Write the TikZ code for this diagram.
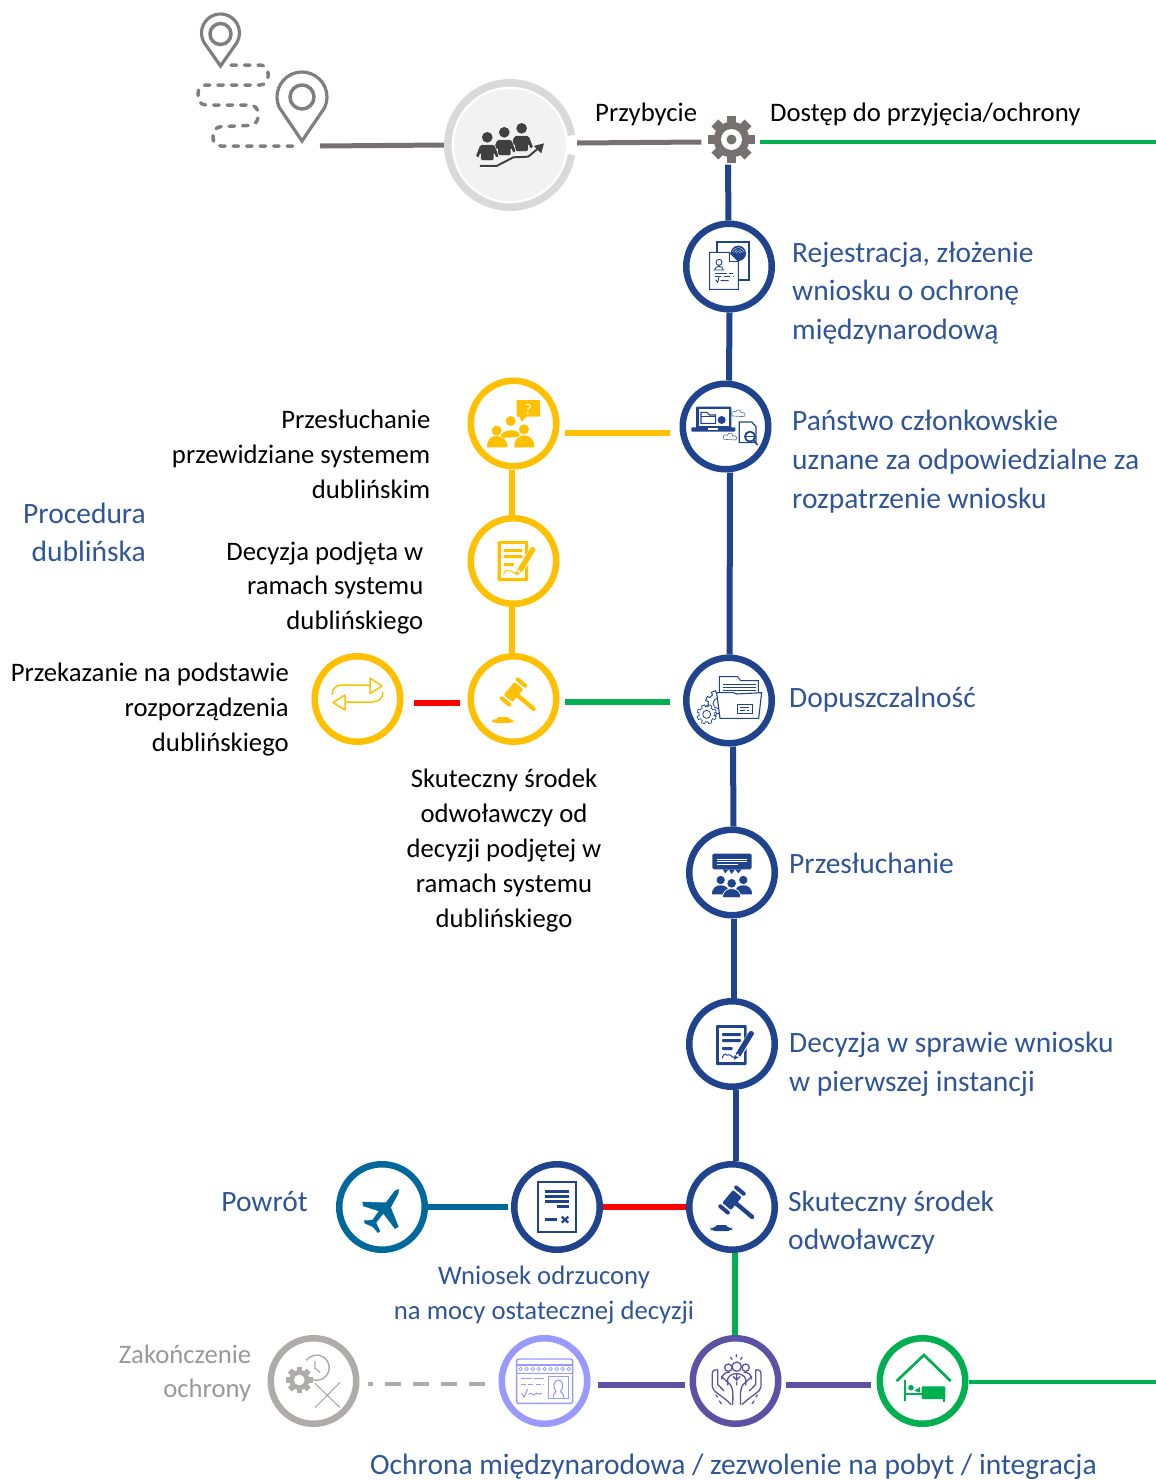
\documentclass[tikz,border=0pt]{standalone}
\usepackage{fontspec}
\setmainfont{Carlito}
\definecolor{navy}{HTML}{1F438C}
\definecolor{labelblue}{HTML}{2F5597}
\definecolor{gold}{HTML}{FFC000}
\definecolor{leaf}{HTML}{00B050}
\definecolor{slate}{HTML}{767171}
\definecolor{teal}{HTML}{00689B}
\definecolor{violet2}{HTML}{5B52A3}
\definecolor{lilac}{HTML}{9999FF}
\definecolor{ash}{HTML}{AFABAB}
\definecolor{pale}{HTML}{D9D9D9}
\definecolor{dark}{HTML}{404040}
\definecolor{pingrey}{HTML}{7F7F7F}
\newcommand{\gearsolid}[5]{%
  \foreach \a in {0,45,90,135}{\fill[#5,shift={(#1,#2)},rotate=\a] (-#3*0.21,-#3) rectangle (#3*0.21,#3);}
  \fill[#5] (#1,#2) circle (#3*0.76);
  \fill[white] (#1,#2) circle (#4);}
\newcommand{\gearline}[4]{%
  \foreach \a in {0,45,90,135}{\fill[#4,shift={(#1,#2)},rotate=\a+22.5] (-#3*0.2,-#3) rectangle (#3*0.2,#3);}
  \fill[#4] (#1,#2) circle (#3*0.8);
  \foreach \a in {0,45,90,135}{\fill[white,shift={(#1,#2)},rotate=\a+22.5] (-#3*0.12,-#3*0.92) rectangle (#3*0.12,#3*0.92);}
  \fill[white] (#1,#2) circle (#3*0.72);
  \draw[#4,line width=.8pt] (#1,#2) circle (#3*0.4);}
\newcommand{\headbody}[3]{%
  \fill[#3,draw=white,line width=.5pt,rounded corners=1.5pt,shift={(#1,#2)}] (-22,22)--(22,22)--(36,58)--(26,63)--(20,46)--(20,70)--(-20,70)--(-20,46)--(-26,63)--(-36,58)--cycle;
  \fill[#3] (#1,#2) circle (16);}
\tikzset{
  x=1pt,y=-1pt,
  zm/.style 2 args={shift={(#1,#2)},scale=0.3333},
  ringnode/.style={circle,draw=#1,line width=6.5pt,minimum size=85.5pt,inner sep=0pt,fill=white},
  link/.style={draw=#1,line width=6pt},
  thinlink/.style={draw=#1,line width=3.5pt},
  bluetext/.style={font=\fontsize{29.5}{38.5}\selectfont,text=labelblue,inner sep=0pt,anchor=north west,align=left},
  blacktext/.style={font=\fontsize{26.7}{35}\selectfont,text=black,inner sep=0pt,anchor=north east,align=right},
  pics/decdoc/.style={code={
    \fill[#1,rounded corners=1pt] (-48,-60) rectangle (44,60);
    \fill[white] (-39,-51) rectangle (35,51);
    \fill[#1,rounded corners=.8pt] (-30,-36) rectangle (27,-27);
    \fill[#1,rounded corners=.8pt] (-30,-18) rectangle (27,-9);
    \fill[#1,rounded corners=.8pt] (-30,6) rectangle (2,15);
    \draw[#1,line width=1pt] (-30,40) .. controls (-20,15) and (-18,35) .. (-12,30) .. controls (-5,25) and (0,42) .. (14,36);
    \fill[white] (24,40) -- (6,46) -- (10,24) -- (50,-40) -- (70,-30) -- cycle;
    \fill[#1,rounded corners=1pt] (10,28) -- (50,-38) .. controls (58,-46) and (68,-38) .. (64,-30) -- (24,36) -- cycle;
    \fill[#1] (6,44) -- (8,30) -- (20,37) -- cycle;
    \fill[white] (12,33) -- (16,26) -- (21,29) -- (17,36) -- cycle;
  }},
  pics/gavel/.style={code={
    \begin{scope}[rotate=-40]
      \fill[#1,rounded corners=1.5pt] (10,-6.5) rectangle (85,6.5);
      \fill[#1,rounded corners=1pt] (-17,-25) rectangle (17,25);
      \fill[#1,rounded corners=1.5pt] (-21,-43) rectangle (21,-31);
      \fill[#1,rounded corners=1.5pt] (-21,31) rectangle (21,43);
    \end{scope}
  }},
  pics/gavelbase/.style={code={
    \fill[#1,rounded corners=4pt] (-64,60) rectangle (0,72);
    \fill[#1,rounded corners=2pt] (-50,54) rectangle (-14,62);
  }},
}
\begin{document}
\begin{tikzpicture}
\useasboundingbox (0,0) rectangle (1156,1481);
% ---- route with pins
\draw[draw=pingrey,line width=3.2pt] (220.5,66) -- ([shift={(150:19)}]220.5,33) arc (150:390:19) -- cycle;
\draw[draw=pingrey,line width=3.5pt] (220.5,34) circle (10.5);
\draw[draw=pingrey,line width=3.2pt] (302,141) -- ([shift={(155:25)}]302,97) arc (155:385:25) -- cycle;
\draw[draw=pingrey,line width=3.5pt] (302,97) circle (12);
\draw[draw=pingrey,line width=3.5pt,line cap=round,dash pattern=on 5.5pt off 8pt,rounded corners=8pt]
  (231,65) -- (268,65) -- (268,85) -- (198,85) -- (198,105) -- (258,105) -- (258,125) -- (213,127) -- (213,146) -- (297,146);

% ---- circular nodes
\node[circle,minimum size=132pt,inner sep=0pt] (startn) at (510,145) {};
\fill[black!5] (510,145) circle (56);
\draw[pale,line width=7.5pt] ([shift={(9:62.2)}]510,145) arc (9:351:62.2);
\node[circle,minimum size=46pt,inner sep=0pt] (gear) at (731.5,139.5) {};
\node[ringnode=navy] (reg) at (729,266.5) {};
\node[ringnode=navy] (ms) at (725.5,426.5) {};
\node[ringnode=navy] (adm) at (729,700.5) {};
\node[ringnode=navy] (int) at (732,872.5) {};
\node[ringnode=navy] (dec) at (732,1044) {};
\node[ringnode=navy] (app) at (732,1207) {};
\node[ringnode=navy] (rej) at (557,1207) {};
\node[ringnode=teal] (ret) at (382,1207) {};
\node[ringnode=gold] (qa) at (513.5,423.5) {};
\node[ringnode=gold] (qb) at (513.5,561) {};
\node[ringnode=gold] (qc) at (513.5,699) {};
\node[ringnode=gold] (tr) at (357.5,699) {};
\node[ringnode=ash] (end) at (313.5,1381) {};
\node[ringnode=lilac] (card) at (544.5,1381) {};
\node[ringnode=violet2] (prot) at (735.5,1381) {};
\node[ringnode=leaf] (home) at (922.5,1381) {};

% ---- free ends
\coordinate (routeend) at (320,146);
\coordinate (accessend) at (1156,142);
\coordinate (homeend) at (1156,1382);

% ---- connectors
\draw[slate,line width=5pt] (routeend) -- ([yshift=0pt]startn.west);
\draw[slate,line width=5pt] ([shift={(1,-2)}]startn.east) -- ([shift={(-7,2.5)}]gear.west);
\draw[thinlink=leaf] ([shift={(5.5,2.5)}]gear.east) -- (accessend);
\draw[link=navy] ([shift={(-3.5,2)}]gear.south) -- ([xshift=-.5pt]reg.north);
\draw[link=navy] ([xshift=.5pt]reg.south) -- ([xshift=3.5pt]ms.north);
\draw[link=navy] ([xshift=4.5pt]ms.south) -- ([xshift=.5pt]adm.north);
\draw[link=navy] ([xshift=4pt]adm.south) -- ([xshift=1.5pt]int.north);
\draw[link=navy] ([xshift=2pt]int.south) -- ([xshift=2pt]dec.north);
\draw[link=navy] ([xshift=4pt]dec.south) -- ([xshift=4pt]app.north);
\draw[link=leaf] ([xshift=3pt]app.south) -- ([xshift=-.5pt]prot.north);
\draw[link=gold] ([shift={(5.5,9.5)}]qa.east) -- ([shift={(-9.5,6.5)}]ms.west);
\draw[link=gold] ([xshift=-2pt]qa.south) -- ([xshift=-2pt]qb.north);
\draw[link=gold] ([xshift=-2pt]qb.south) -- ([xshift=-2pt]qc.north);
\draw[link=red] ([shift={(-7.5,4)}]qc.west) -- ([shift={(10.5,4)}]tr.east);
\draw[link=leaf] ([shift={(5.5,3)}]qc.east) -- ([shift={(-13,1.5)}]adm.west);
\draw[link=teal] (ret.east) -- ([xshift=-3pt]rej.west);
\draw[link=red] (rej.east) -- (app.west);
\draw[ash,line width=3.5pt,dash pattern=on 16pt off 12pt] ([shift={(-13.5,3)}]card.west) -- ([shift={(8.5,3)}]end.east);
\draw[link=violet2] ([shift={(7,4)}]card.east) -- ([shift={(-5,4)}]prot.west);
\draw[link=violet2] ([shift={(4,4)}]prot.east) -- ([shift={(-5.5,4)}]home.west);
\draw[thinlink=leaf] (home.east |- homeend) -- (homeend);

% ---- people in start node (zoom 1)
\begin{scope}[zm={180}{0}]
  \headbody{1025}{385}{dark}
  \headbody{973}{397}{dark}
  \headbody{922}{412}{dark}
  \draw[white,line width=3pt,line join=round] (900,498) -- (950,498) -- (1000,472) -- (1045,470) -- (1075,445);
  \draw[dark,line width=2pt,line join=round] (900,498) -- (950,498) -- (1000,472) -- (1045,470) -- (1075,445);
  \fill[dark] (1092,430) -- (1062,438) -- (1084,460) -- cycle;
\end{scope}

% ---- gear
\gearsolid{731.5}{139.5}{23.5}{10.5}{slate}
\fill[slate] (731.5,139.5) circle (5);

% ---- registration icon (zoom 2)
\begin{scope}[zm={670}{100}]
  \draw[navy,line width=1.8pt] (140,427) rectangle (236,540);
  \fill[navy] (205,460) circle (23);
  \foreach \r in {7,13,19}{\draw[white,line width=.3pt] ([shift={(200:\r)}]205,462) arc (200:340:\r);}
  \fill[white,draw=navy,line width=.9pt] (119,457) -- (178,457) -- (205,484) -- (205,568) -- (119,568) -- cycle;
  \draw[navy,line width=.9pt] (178,457) -- (178,484) -- (205,484);
  \draw[navy,line width=.9pt] (147,487) circle (9) (134,510) .. controls (136,495) and (158,495) .. (160,510) -- cycle;
  \draw[navy,line width=.9pt] (134,519) -- (170,519) (177,519) -- (190,519);
  \draw[navy,line width=.7pt,dash pattern=on 6pt off 3pt] (134,528) -- (190,528);
  \draw[navy,line width=.9pt] (137,540) -- (143,547) -- (147,532) (152,542) -- (176,542);
\end{scope}

% ---- member state icon (zoom 2)
\begin{scope}[zm={670}{100}]
  \fill[navy,rounded corners=1pt] (78,920) rectangle (184,985);
  \fill[white] (86,928) rectangle (176,978);
  \fill[navy,rounded corners=1pt] (64,982) rectangle (196,995);
  \fill[white] (115,985) rectangle (143,989);
  \draw[navy,line width=1.1pt] (93,937) -- (112,937) -- (118,945) -- (137,945) -- (137,970) -- (93,970) -- cycle;
  \draw[navy,line width=1.1pt] (93,950) -- (137,950);
  \fill[navy] (155,960) circle (12);
  \foreach \cx/\cy in {205/942,180/1012}{
    \draw[navy!80,line width=.6pt] (\cx-18,\cy+6) .. controls (\cx-26,\cy-6) and (\cx-12,\cy-10) .. (\cx-8,\cy-6) .. controls (\cx-6,\cy-16) and (\cx+10,\cy-14) .. (\cx+8,\cy-4) .. controls (\cx+20,\cy-8) and (\cx+24,\cy+6) .. (\cx+16,\cy+8) -- cycle;}
  \fill[white,draw=navy,line width=1.2pt] (208,966) -- (245,966) -- (258,980) -- (258,1028) -- (208,1028) -- cycle;
  \draw[navy,line width=1.8pt] (240,1010) circle (15);
  \fill[navy] (228,1007) rectangle (252,1012);
  \draw[navy,line width=1.6pt] (251,1021) -- (263,1035);
\end{scope}

% ---- Dublin hearing icon (zoom 3)
\begin{scope}[zm={300}{370}]
  \fill[gold] (590,182) circle (15);
  \fill[gold] (672,178) circle (15);
  \fill[gold] (632,153) circle (15);
  \fill[gold] (561,232) .. controls (561,205) and (575,198) .. (590,198) .. controls (605,198) and (622,205) .. (622,232) -- cycle;
  \fill[gold] (643,232) .. controls (643,205) and (657,196) .. (672,196) .. controls (687,196) and (703,205) .. (703,232) -- cycle;
  \fill[gold,draw=white,line width=.6pt,rounded corners=3pt] (600,205) .. controls (605,178) and (655,172) .. (662,202) -- cycle;
  \fill[gold,rounded corners=1pt] (650,90) rectangle (720,140);
  \fill[gold] (658,138) -- (665,155) -- (682,138) -- cycle;
  \node[text=white,font=\fontsize{15}{15}\selectfont,inner sep=0pt] (qmark) at (685,117) {?};
\end{scope}

% ---- decision icons
\path (513.5,561) pic[scale=0.3333] {decdoc=gold};
\path (732,1045) pic[scale=0.3333] {decdoc=navy};

% ---- gavels
\path (513.5,692) pic[scale=0.3333] {gavel=gold};
\path (513.5,699) pic[scale=0.3333] {gavelbase=gold};
\path (732,1200) pic[scale=0.3333] {gavel=navy};
\path (732,1207) pic[scale=0.3333] {gavelbase=navy};

% ---- transfer arrows
\draw[gold,line width=1.5pt] (332,695) .. controls (332,689) and (336,685) .. (342,685) -- (370,685);
\draw[gold,line width=1.5pt,line join=round] (370,678) -- (382,686) -- (370,693.5) -- cycle;
\draw[gold,line width=1.5pt] (383,692) .. controls (383,698) and (379,702) .. (372,702) -- (345,702);
\draw[gold,line width=1.5pt,line join=round] (345,695) -- (333,702.5) -- (345,710) -- cycle;

% ---- admissibility icon (zoom 4)
\begin{scope}[zm={670}{650}]
  \gearline{145}{160}{40}{navy}
  \gearline{110}{193}{30}{navy}
  \fill[white] (150,82) rectangle (265,128);
  \draw[navy,line width=.9pt] (148,128) -- (148,80) -- (203,80) -- (212,92) -- (265,92) -- (265,128);
  \draw[navy,line width=1pt] (158,102) -- (258,102) (158,112) -- (258,112) (158,122) -- (258,122);
  \fill[white,draw=navy,line width=1.1pt,line join=round] (140,128) -- (190,128) -- (200,132) -- (275,128) -- (266,205) -- (150,205) -- cycle;
  \draw[navy,line width=1pt] (202,163) rectangle (247,190);
  \draw[navy,line width=1pt] (211,172) -- (238,172) (211,180) -- (225,180) (230,180) -- (238,180);
\end{scope}

% ---- hearing icon (zoom 4)
\begin{scope}[zm={670}{650}]
  \fill[navy,rounded corners=1.5pt] (127,611) rectangle (245,658);
  \fill[navy] (158,658) -- (166,670) -- (176,658) -- (185,672) -- (195,658) -- (205,670) -- (215,658) -- cycle;
  \draw[white,line width=.8pt] (142,627) -- (230,627) (142,635) -- (230,635) (142,643) -- (205,643);
  \fill[navy] (152,690) circle (12.5) (220,690) circle (12.5);
  \fill[navy] (126,733) .. controls (126,712) and (140,706) .. (152,706) .. controls (165,706) and (178,712) .. (178,733) -- cycle;
  \fill[navy] (194,733) .. controls (194,712) and (207,706) .. (220,706) .. controls (232,706) and (246,712) .. (246,733) -- cycle;
  \fill[navy] (185,700) circle (13);
  \fill[navy,draw=white,line width=.7pt] (158,743) .. controls (158,722) and (172,716) .. (185,716) .. controls (198,716) and (212,722) .. (212,743) -- cycle;
\end{scope}

% ---- return plane (zoom 5)
\begin{scope}[zm={330}{1150}]
  \fill[teal,line join=round,draw=teal,line width=.3pt] (207,118) -- (204,132) -- (182,172) -- (205,230) -- (195,236) -- (160,190) -- (138,218) -- (150,243) -- (144,248) -- (128,230) -- (105,220) -- (102,212) -- (128,210) -- (147,183) -- (100,168) -- (98,156) -- (168,158) -- (195,122) -- cycle;
\end{scope}

% ---- rejected application icon (zoom 5)
\begin{scope}[zm={330}{1150}]
  \draw[navy,line width=1.7pt] (625,97) rectangle (739,245);
  \draw[navy,line width=2.4pt] (645,125) -- (718,125) (645,140) -- (718,140) (645,155) -- (718,155) (680,170) -- (718,170) (645,208) -- (680,208);
  \draw[navy,line width=2.2pt] (695,200) -- (715,218) (715,200) -- (695,218);
\end{scope}

% ---- end of protection icon (zoom 6)
\begin{scope}[zm={260}{1325}]
  \gearsolid{118}{165}{40}{16}{ash}
  \draw[ash,line width=1.4pt] ([shift={(-145:38)}]170,128) arc (-145:115:38);
  \draw[ash,line width=1.3pt] (165,108) -- (165,130) -- (180,142);
  \draw[ash,line width=1.1pt] (165,175) -- (240,248) (240,172) -- (165,248);
\end{scope}

% ---- residence card icon (zoom 6)
\begin{scope}[zm={260}{1325}]
  \draw[lilac,line width=1.4pt,rounded corners=2pt] (770,102) rectangle (938,235);
  \draw[lilac,line width=1.2pt] (770,120) -- (938,120) (770,145) -- (938,145);
  \foreach \x in {782,800,...,926}{\draw[lilac,line width=.7pt] (\x,132) circle (5);}
  \draw[lilac,line width=1.2pt] (782,161) -- (815,161) (822,161) -- (852,161);
  \draw[lilac,line width=1.2pt,dash pattern=on 5pt off 2.5pt] (782,178) -- (852,178);
  \draw[lilac,line width=1.1pt] (785,205) -- (793,216) -- (803,192);
  \draw[lilac,line width=1.1pt] (806,208) .. controls (815,198) and (818,216) .. (826,207) .. controls (832,200) and (836,212) .. (845,205);
  \draw[lilac,line width=1.3pt] (865,155) rectangle (925,220);
  \draw[lilac,line width=1.1pt] (880,218) .. controls (880,205) and (885,205) .. (888,200) .. controls (878,188) and (880,165) .. (895,165) .. controls (910,165) and (912,188) .. (902,200) .. controls (905,205) and (912,205) .. (912,218);
\end{scope}

% ---- protection icon (zoom 7)
\begin{scope}[zm={680}{1325},violet2,line width=1.3pt,line cap=round]
  \draw (113,135) .. controls (100,132) and (95,140) .. (97,155) -- (97,185) .. controls (97,200) and (125,210) .. (153,238);
  \draw (113,135) -- (113,178) -- (132,198);
  \draw (125,155) -- (150,178) .. controls (158,188) and (160,200) .. (158,238);
  \draw (108,210) -- (112,216) (118,228) -- (124,236);
  \draw (227,135) .. controls (240,132) and (245,140) .. (243,155) -- (243,185) .. controls (243,200) and (215,210) .. (187,238);
  \draw (227,135) -- (227,178) -- (208,198);
  \draw (215,155) -- (190,178) .. controls (182,188) and (180,200) .. (182,238);
  \draw (232,210) -- (228,216) (222,228) -- (216,236);
  \draw (145,128) circle (11) (197,128) circle (11);
  \draw (125,162) .. controls (127,148) and (135,142) .. (148,142);
  \draw (215,162) .. controls (213,148) and (205,142) .. (192,142);
  \fill[white] (170,125) circle (15);
  \draw (170,125) circle (14);
  \draw (143,180) -- (143,162) .. controls (147,150) and (160,146) .. (170,146) .. controls (180,146) and (193,150) .. (197,162) -- (197,180);
  \draw (170,146) -- (170,165) -- (160,155) (170,165) -- (180,155) (170,172) -- (170,180);
  \draw (152,97) -- (156,103) (169,89) -- (169,96) (186,97) -- (182,103);
\end{scope}

% ---- home icon (zoom 7)
\begin{scope}[zm={680}{1325},leaf]
  \draw[leaf,line width=2.7pt] (650,168) -- (732,90) -- (812,168);
  \draw[leaf,line width=2.6pt] (675,165) -- (675,228);
  \draw[leaf,line width=2.2pt] (675,208) -- (795,208);
  \fill[leaf] (693,188) circle (8.5);
  \fill[leaf] (703,197) -- (720,186) -- (720,203) -- cycle;
  \fill[leaf,rounded corners=1pt] (725,184) rectangle (796,222);
  \fill[leaf] (789,220) rectangle (796,230);
\end{scope}

% ---- labels
\node[blacktext,anchor=north west] (lblarr) at (595,96.5) {\strut Przybycie};
\node[blacktext,anchor=north west] (lblacc) at (770,96.5) {\strut Dostęp do przyjęcia/ochrony};
\node[bluetext] (lblreg) at (792,235) {\strut Rejestracja, złożenie\\\strut wniosku o ochronę\\\strut międzynarodową};
\node[bluetext,font=\fontsize{29.5}{39}\selectfont] (lblms) at (792,402.5) {\strut Państwo członkowskie\\\strut uznane za odpowiedzialne za\\\strut rozpatrzenie wniosku};
\node[bluetext] (lbladm) at (789,680.5) {\strut Dopuszczalność};
\node[bluetext] (lblint) at (789,846.5) {\strut Przesłuchanie};
\node[bluetext,font=\fontsize{29.5}{39}\selectfont] (lbldec) at (789,1024.5) {\strut Decyzja w sprawie wniosku\\\strut w pierwszej instancji};
\node[bluetext,font=\fontsize{29.5}{38}\selectfont] (lblapp) at (788,1185) {\strut Skuteczny środek\\\strut odwoławczy};
\node[bluetext,anchor=north east,align=right,font=\fontsize{29.5}{38}\selectfont] (lbldub) at (146,497) {\strut Procedura\\\strut dublińska};
\node[bluetext,anchor=north east,align=right] (lblret) at (308,1184.5) {\strut Powrót};
\node[bluetext,font=\fontsize{26.7}{35}\selectfont,anchor=north,align=center] (lblrej) at (544,1259.5) {\strut Wniosek odrzucony\\\strut na mocy ostatecznej decyzji};
\node[bluetext,anchor=base west] (lblprot) at (370,1474.5) {Ochrona międzynarodowa / zezwolenie na pobyt / integracja};
\node[blacktext,text=black!40!white,font=\fontsize{26.7}{34}\selectfont] (lblend) at (251.5,1339) {\strut Zakończenie\\\strut ochrony};
\node[blacktext] (lbldh) at (430.5,404) {\strut Przesłuchanie\\\strut przewidziane systemem\\\strut dublińskim};
\node[blacktext,font=\fontsize{26.7}{34.5}\selectfont] (lbldd) at (423.5,536) {\strut Decyzja podjęta w\\\strut ramach systemu\\\strut dublińskiego};
\node[blacktext] (lbltr) at (289,657) {\strut Przekazanie na podstawie\\\strut rozporządzenia\\\strut dublińskiego};
\node[blacktext,anchor=north,align=center] (lbldr) at (504,763) {\strut Skuteczny środek\\\strut odwoławczy od\\\strut decyzji podjętej w\\\strut ramach systemu\\\strut dublińskiego};
\end{tikzpicture}
\end{document}
